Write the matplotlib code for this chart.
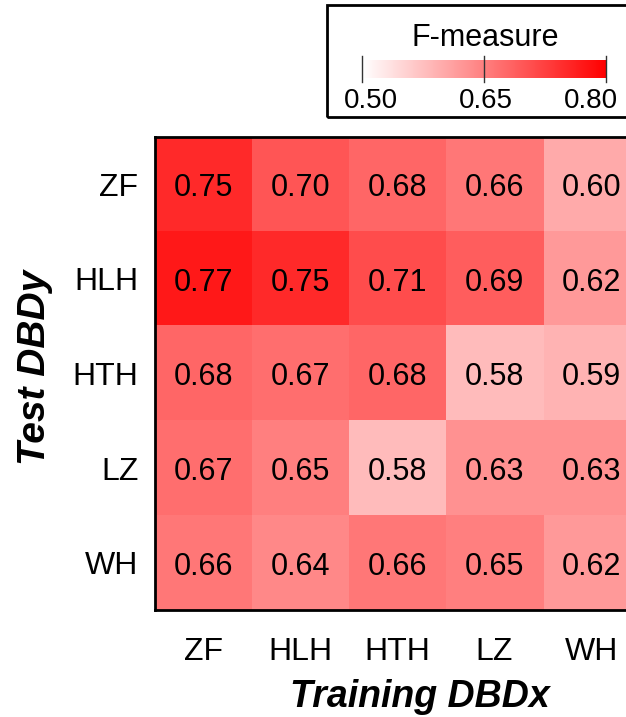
import matplotlib.pyplot as plt
import numpy as np
from matplotlib.colors import LinearSegmentedColormap
from matplotlib.patches import Rectangle
from matplotlib.transforms import offset_copy

plt.rcParams['font.family'] = ['Liberation Sans', 'DejaVu Sans']

# training sets (columns) and test sets (rows)
train_names = ["ZF", "HLH", "HTH", "LZ", "WH"]
test_names = ["ZF", "HLH", "HTH", "LZ", "WH"]

# F-measure for each test row / training column
f_measure = np.array([
    [0.75, 0.70, 0.68, 0.66, 0.60],
    [0.77, 0.75, 0.71, 0.69, 0.62],
    [0.68, 0.67, 0.68, 0.58, 0.59],
    [0.67, 0.65, 0.58, 0.63, 0.63],
    [0.66, 0.64, 0.66, 0.65, 0.62],
])

cbar_ticks = [0.50, 0.65, 0.80]

cmap = LinearSegmentedColormap.from_list("wr", ["#ffffff", "#ff0000"])

fig = plt.figure(figsize=(6.26, 7.17), dpi=100)
ax = fig.add_axes([0.2476, 0.149, 0.7748, 0.660])

im = ax.imshow(f_measure, cmap=cmap, vmin=0.5, vmax=0.8, aspect="auto")

for i in range(len(test_names)):
    for j in range(len(train_names)):
        ax.text(j, i + 0.04, f"{f_measure[i, j]:.2f}", ha="center", va="center",
                fontsize=22, color="black")

ax.set_xticks(range(len(train_names)))
ax.set_xticklabels(train_names, fontsize=23)
ax.set_yticks(range(len(test_names)))
ax.set_yticklabels(test_names, fontsize=23)
ax.tick_params(length=0, pad=12)
ax.tick_params(axis="x", pad=19)
for s in ax.spines.values():
    s.set_linewidth(2)

ax.set_xlabel("Training DBDx", fontsize=27, fontweight="bold", style="italic")
ax.xaxis.set_label_coords(0.546, -0.145)
ax.set_ylabel("Test DBDy", fontsize=28, fontweight="bold", style="italic")
ax.yaxis.set_label_coords(-0.21, 0.514)

# colour bar inside a framed box at the top
fig.patches.append(Rectangle((327 / 626, 1 - 117 / 717), 310 / 626, 112 / 717,
                             transform=fig.transFigure, fill=False,
                             edgecolor="black", linewidth=2))
cax = fig.add_axes([362 / 626, 1 - 78 / 717, 244 / 626, 18 / 717])
cb = fig.colorbar(im, cax=cax, orientation="horizontal")
cb.outline.set_visible(False)
cb.set_ticks(cbar_ticks)
cax.set_xticklabels([])
cax.tick_params(length=0)
for t in cbar_ticks:
    cax.axvline(t, ymin=-0.2, ymax=1.2, color="#333333", linewidth=1, clip_on=False)

# end labels pulled inward so they stay inside the frame
label_shift = [9, 2, -15]
for t, dx in zip(cbar_ticks, label_shift):
    tr = offset_copy(cax.get_xaxis_transform(), fig=fig, x=dx, y=0, units="dots")
    cax.text(t, -1.25, f"{t:.2f}", transform=tr, ha="center", va="center", fontsize=20)

fig.text(485 / 626, 1 - 38 / 717, "F-measure", ha="center", va="center", fontsize=22)

fig.savefig("out.png", dpi=100)
